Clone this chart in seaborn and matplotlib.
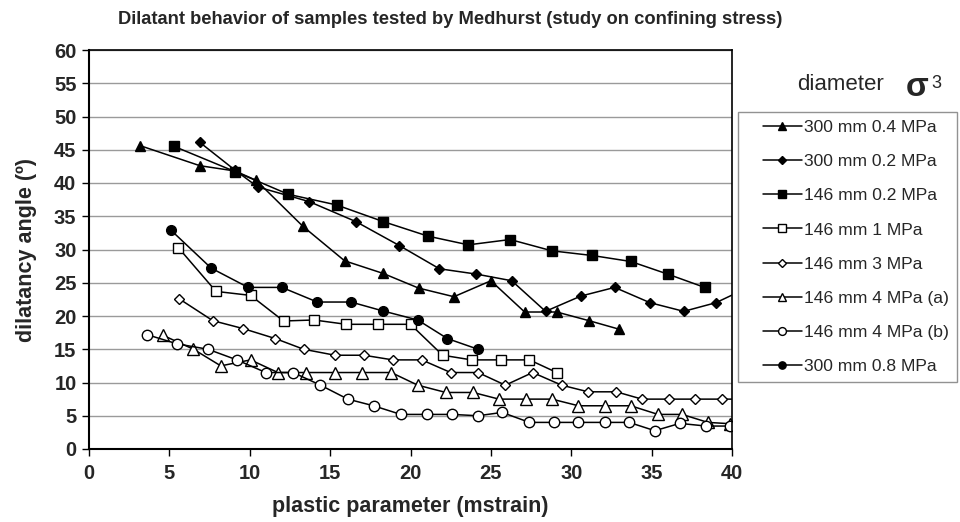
import matplotlib
matplotlib.use("Agg")
import matplotlib.pyplot as plt
from matplotlib.lines import Line2D
from matplotlib.legend_handler import HandlerLine2D
import seaborn as sns
import pandas as pd

# ---- data ----
labels = ["300 mm 0.4 MPa", "300 mm 0.2 MPa", "146 mm 0.2 MPa", "146 mm 1 MPa",
          "146 mm 3 MPa", "146 mm 4 MPa (a)", "146 mm 4 MPa (b)", "300 mm 0.8 MPa"]

x_300_04 = [3.2, 6.9, 9.1, 10.4, 13.3, 15.9, 18.3, 20.5, 22.7, 25.0, 27.1, 29.1, 31.1, 33.0]
y_300_04 = [45.6, 42.6, 41.8, 40.4, 33.5, 28.3, 26.4, 24.2, 22.9, 25.3, 20.6, 20.6, 19.3, 18.0]

x_300_02 = [6.9, 9.1, 10.5, 13.7, 16.6, 19.3, 21.8, 24.1, 26.3, 28.4, 30.6, 32.7, 34.9, 37.0, 39.0, 41.1]
y_300_02 = [46.1, 41.9, 39.4, 37.2, 34.2, 30.6, 27.1, 26.3, 25.3, 20.7, 23.0, 24.3, 22.0, 20.7, 22.0, 24.4]

x_146_02 = [5.3, 9.1, 12.4, 15.4, 18.3, 21.1, 23.6, 26.2, 28.8, 31.3, 33.7, 36.0, 38.3]
y_146_02 = [45.5, 41.7, 38.3, 36.7, 34.2, 32.0, 30.7, 31.5, 29.8, 29.1, 28.2, 26.3, 24.3]

x_146_1 = [5.55, 7.9, 10.05, 12.1, 14.0, 16.0, 18.0, 20.0, 22.0, 23.8, 25.6, 27.4, 29.1]
y_146_1 = [30.3, 23.7, 23.1, 19.25, 19.4, 18.75, 18.75, 18.75, 14.1, 13.4, 13.4, 13.4, 11.5]

x_146_3 = [5.6, 7.7, 9.6, 11.6, 13.35, 15.3, 17.1, 18.9, 20.7, 22.5, 24.2, 25.9, 27.6,
           29.4, 31.05, 32.8, 34.4, 36.1, 37.7, 39.4, 41.1]
y_146_3 = [22.6, 19.3, 18.1, 16.6, 15.0, 14.1, 14.1, 13.4, 13.4, 11.5, 11.5, 9.6, 11.5,
           9.6, 8.6, 8.6, 7.5, 7.5, 7.5, 7.5, 7.5]

x_146_4a = [4.6, 6.5, 8.2, 10.05, 11.75, 13.5, 15.3, 17.0, 18.8, 20.45, 22.2, 23.9, 25.5,
            27.2, 28.8, 30.45, 32.1, 33.7, 35.4, 36.9, 38.5, 39.9]
y_146_4a = [17.1, 15.0, 12.5, 13.4, 11.5, 11.5, 11.5, 11.5, 11.5, 9.6, 8.5, 8.5, 7.5,
            7.5, 7.5, 6.5, 6.5, 6.5, 5.2, 5.2, 4.0, 3.8]

x_146_4b = [3.6, 5.5, 7.4, 9.2, 11.0, 12.7, 14.4, 16.1, 17.7, 19.4, 21.0, 22.6, 24.2,
            25.7, 27.4, 28.9, 30.45, 32.1, 33.6, 35.2, 36.75, 38.4, 39.9]
y_146_4b = [17.2, 15.8, 15.0, 13.4, 11.5, 11.5, 9.6, 7.5, 6.5, 5.2, 5.2, 5.2, 5.0,
            5.5, 4.0, 4.0, 4.0, 4.0, 4.0, 2.75, 3.85, 3.45, 3.45]

x_300_08 = [5.1, 7.6, 9.9, 12.0, 14.2, 16.3, 18.3, 20.45, 22.3, 24.2]
y_300_08 = [32.9, 27.2, 24.3, 24.3, 22.1, 22.1, 20.75, 19.4, 16.6, 15.0]

series_x = [x_300_04, x_300_02, x_146_02, x_146_1, x_146_3, x_146_4a, x_146_4b, x_300_08]
series_y = [y_300_04, y_300_02, y_146_02, y_146_1, y_146_3, y_146_4a, y_146_4b, y_300_08]
markers = ["^", "D", "s", "s", "D", "^", "o", "o"]
filled = [True, True, True, False, False, False, False, True]
msizes = [7.5, 5.5, 7, 7, 5.5, 8, 7.5, 7]

x_ticks = [0, 5, 10, 15, 20, 25, 30, 35, 40]
y_ticks = [0, 5, 10, 15, 20, 25, 30, 35, 40, 45, 50, 55, 60]

# ---- style ----
sns.set_style("white")
plt.rcParams["font.family"] = ["Liberation Sans", "DejaVu Sans"]

fig = plt.figure(figsize=(9.6, 5.22), dpi=100)
ax = fig.add_axes([89 / 960, 1 - 449 / 522, (732 - 89) / 960, (449 - 50) / 522])

handles = []
for xs, ys, lab, mk, fl, ms in zip(series_x, series_y, labels, markers, filled, msizes):
    df = pd.DataFrame({"x": xs, "y": ys})
    sns.lineplot(data=df, x="x", y="y", ax=ax, color="black", linewidth=1.1,
                 marker=mk, markersize=ms, markerfacecolor="black" if fl else "white",
                 markeredgecolor="black", markeredgewidth=1.0, sort=False,
                 label=lab, legend=False, clip_on=True)
    handles.append(ax.lines[-1])

ax.set_xlim(0, 40)
ax.set_ylim(0, 60)
ax.set_xticks(x_ticks)
ax.set_yticks(y_ticks)
ax.set_xticklabels([str(t) for t in x_ticks], fontsize=14.5, fontweight="bold")
ax.set_yticklabels([str(t) for t in y_ticks], fontsize=14.5, fontweight="bold")
ax.tick_params(axis="both", direction="out", length=5, width=1, color="black",
               bottom=True, left=True)
ax.tick_params(axis="x", pad=6)
ax.tick_params(axis="y", pad=4)
ax.yaxis.grid(True, color="#9a9a9a", linewidth=1)
ax.xaxis.grid(False)
ax.set_axisbelow(True)
for s in ["left", "bottom"]:
    ax.spines[s].set_color("black")
    ax.spines[s].set_linewidth(1.5)
for s in ["top", "right"]:
    ax.spines[s].set_color("black")
    ax.spines[s].set_linewidth(1.2)

ax.set_xlabel("plastic parameter (mstrain)", fontsize=15.5, fontweight="bold", labelpad=9)
ax.set_ylabel("dilatancy angle (º)", fontsize=15.5, fontweight="bold", labelpad=12)

fig.text(0.469, 1 - 20 / 522, "Dilatant behavior of samples tested by Medhurst (study on confining stress)",
         ha="center", va="center", fontsize=13.2, fontweight="bold")

leg = ax.legend(handles=handles, labels=labels, loc="upper left",
                bbox_to_anchor=(738 / 960, 1 - 112 / 522), bbox_transform=fig.transFigure,
                frameon=True, fancybox=False, edgecolor="#777777", fontsize=12.6,
                handlelength=3.2, labelspacing=1.08, borderpad=0.45, handletextpad=0.15,
                borderaxespad=0, markerscale=0.75,
                handler_map={Line2D: HandlerLine2D(xpad=0.95)})
leg.get_frame().set_linewidth(1)

fig.text(797 / 960, 1 - 85 / 522, "diameter", ha="left", va="center", fontsize=16)
fig.text(906 / 960, 1 - 87 / 522, "σ", ha="left", va="center", fontsize=24, fontweight="bold")
fig.text(931 / 960, 1 - 84 / 522, "3", ha="left", va="center", fontsize=13)

fig.savefig("out.png", dpi=100, facecolor="white")
